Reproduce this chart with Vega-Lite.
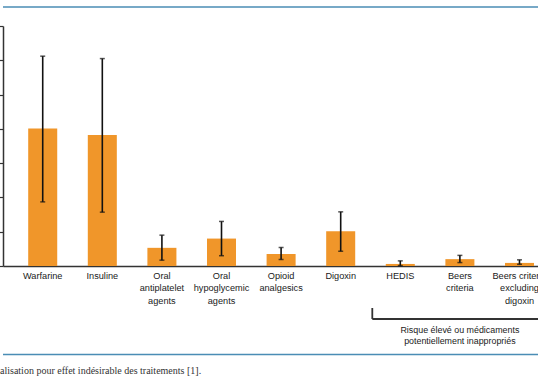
{
  "$schema": "https://vega.github.io/schema/vega-lite/v6.json",
  "width": 535,
  "height": 240,
  "autosize": {"type": "none"},
  "padding": {"left": 3, "top": 26, "right": 0, "bottom": 118},
  "background": "white",
  "config": {
    "view": {"stroke": null},
    "axisY": {
      "labels": false,
      "grid": false,
      "tickCount": 8,
      "domainColor": "#333333",
      "domainWidth": 1.5,
      "tickColor": "#333333",
      "tickSize": 4,
      "tickWidth": 1.2,
      "title": null
    },
    "axisX": {
      "labelAngle": 0,
      "ticks": false,
      "grid": false,
      "domainColor": "#333333",
      "domainWidth": 1.5,
      "labelExpr": "split(datum.label, '|')",
      "labelFont": "Liberation Sans",
      "labelFontSize": 9.2,
      "labelColor": "#1a1a1a",
      "labelBaseline": "top",
      "labelPadding": 5,
      "labelLineHeight": 12.5,
      "labelOverlap": false,
      "labelBound": false,
      "title": null
    }
  },
  "title": {
    "text": "alisation pour effet indésirable des traitements [1].",
    "orient": "bottom",
    "anchor": "start",
    "frame": "group",
    "baseline": "top",
    "offset": 11,
    "dx": -3,
    "font": "Liberation Serif",
    "fontSize": 10,
    "fontWeight": "normal",
    "color": "#333333"
  },
  "datasets": {
    "drugs": [
      {"drug": "Warfarine", "value": 4.01, "lo": 1.87, "hi": 6.12},
      {"drug": "Insuline", "value": 3.82, "lo": 1.57, "hi": 6.05},
      {"drug": "Oral|antiplatelet|agents", "value": 0.53, "lo": 0.17, "hi": 0.90},
      {"drug": "Oral|hypoglycemic|agents", "value": 0.80, "lo": 0.30, "hi": 1.30},
      {"drug": "Opioid|analgesics", "value": 0.35, "lo": 0.19, "hi": 0.54},
      {"drug": "Digoxin", "value": 1.01, "lo": 0.43, "hi": 1.58},
      {"drug": "HEDIS", "value": 0.06, "lo": 0.01, "hi": 0.15},
      {"drug": "Beers|criteria", "value": 0.20, "lo": 0.10, "hi": 0.31},
      {"drug": "Beers criteria|excluding|digoxin", "value": 0.09, "lo": 0.05, "hi": 0.18}
    ],
    "single": [{"note": "Risque élevé ou médicaments potentiellement inappropriés"}]
  },
  "layer": [
    {
      "data": {"name": "drugs"},
      "mark": {"type": "bar", "color": "#f0962a"},
      "encoding": {
        "x": {
          "field": "drug",
          "type": "nominal",
          "sort": null,
          "title": null,
          "scale": {"paddingInner": 0.513, "paddingOuter": 0.245, "align": 0.863}
        },
        "y": {
          "field": "value",
          "type": "quantitative",
          "title": null,
          "scale": {"domain": [0, 7], "nice": false, "zero": true},
          "axis": {"values": [0, 1, 2, 3, 4, 5, 6, 7]}
        }
      }
    },
    {
      "data": {"name": "drugs"},
      "mark": {"type": "rule", "color": "#111111", "strokeWidth": 1.6},
      "encoding": {
        "x": {"field": "drug", "type": "nominal", "sort": null, "title": null},
        "y": {"field": "lo", "type": "quantitative", "title": null},
        "y2": {"field": "hi"}
      }
    },
    {
      "data": {"name": "drugs"},
      "mark": {"type": "tick", "color": "#111111", "thickness": 1.5, "size": 5},
      "encoding": {
        "x": {"field": "drug", "type": "nominal", "sort": null, "title": null},
        "y": {"field": "lo", "type": "quantitative", "title": null}
      }
    },
    {
      "data": {"name": "drugs"},
      "mark": {"type": "tick", "color": "#111111", "thickness": 1.5, "size": 5},
      "encoding": {
        "x": {"field": "drug", "type": "nominal", "sort": null, "title": null},
        "y": {"field": "hi", "type": "quantitative", "title": null}
      }
    },
    {
      "data": {"name": "single"},
      "mark": {"type": "rule", "color": "#4a8db5", "strokeWidth": 1.5},
      "encoding": {"y": {"datum": 7.554, "title": null}}
    },
    {
      "data": {"name": "single"},
      "mark": {"type": "rule", "color": "#4a8db5", "strokeWidth": 1.5},
      "encoding": {"y": {"datum": -2.581, "title": null}}
    },
    {
      "data": {"name": "single"},
      "mark": {"type": "rule", "color": "#333333", "strokeWidth": 1.8, "xOffset": -28, "x2Offset": 25},
      "encoding": {
        "x": {"datum": "HEDIS", "title": null},
        "x2": {"datum": "Beers criteria|excluding|digoxin"},
        "y": {"datum": -1.546, "title": null}
      }
    },
    {
      "data": {"name": "single"},
      "mark": {"type": "rule", "color": "#333333", "strokeWidth": 1.8, "xOffset": -28},
      "encoding": {
        "x": {"datum": "HEDIS", "title": null},
        "y": {"datum": -1.225, "title": null},
        "y2": {"datum": -1.546}
      }
    },
    {
      "data": {"name": "single"},
      "mark": {"type": "text", "font": "Liberation Sans", "fontSize": 8.9, "color": "#1a1a1a", "baseline": "middle", "align": "center"},
      "encoding": {
        "x": {"datum": "Beers|criteria", "title": null},
        "y": {"datum": -1.867, "title": null},
        "text": {"value": "Risque élevé ou médicaments"}
      }
    },
    {
      "data": {"name": "single"},
      "mark": {"type": "text", "font": "Liberation Sans", "fontSize": 8.9, "color": "#1a1a1a", "baseline": "middle", "align": "center"},
      "encoding": {
        "x": {"datum": "Beers|criteria", "title": null},
        "y": {"datum": -2.18, "title": null},
        "text": {"value": "potentiellement inappropriés"}
      }
    }
  ]
}
